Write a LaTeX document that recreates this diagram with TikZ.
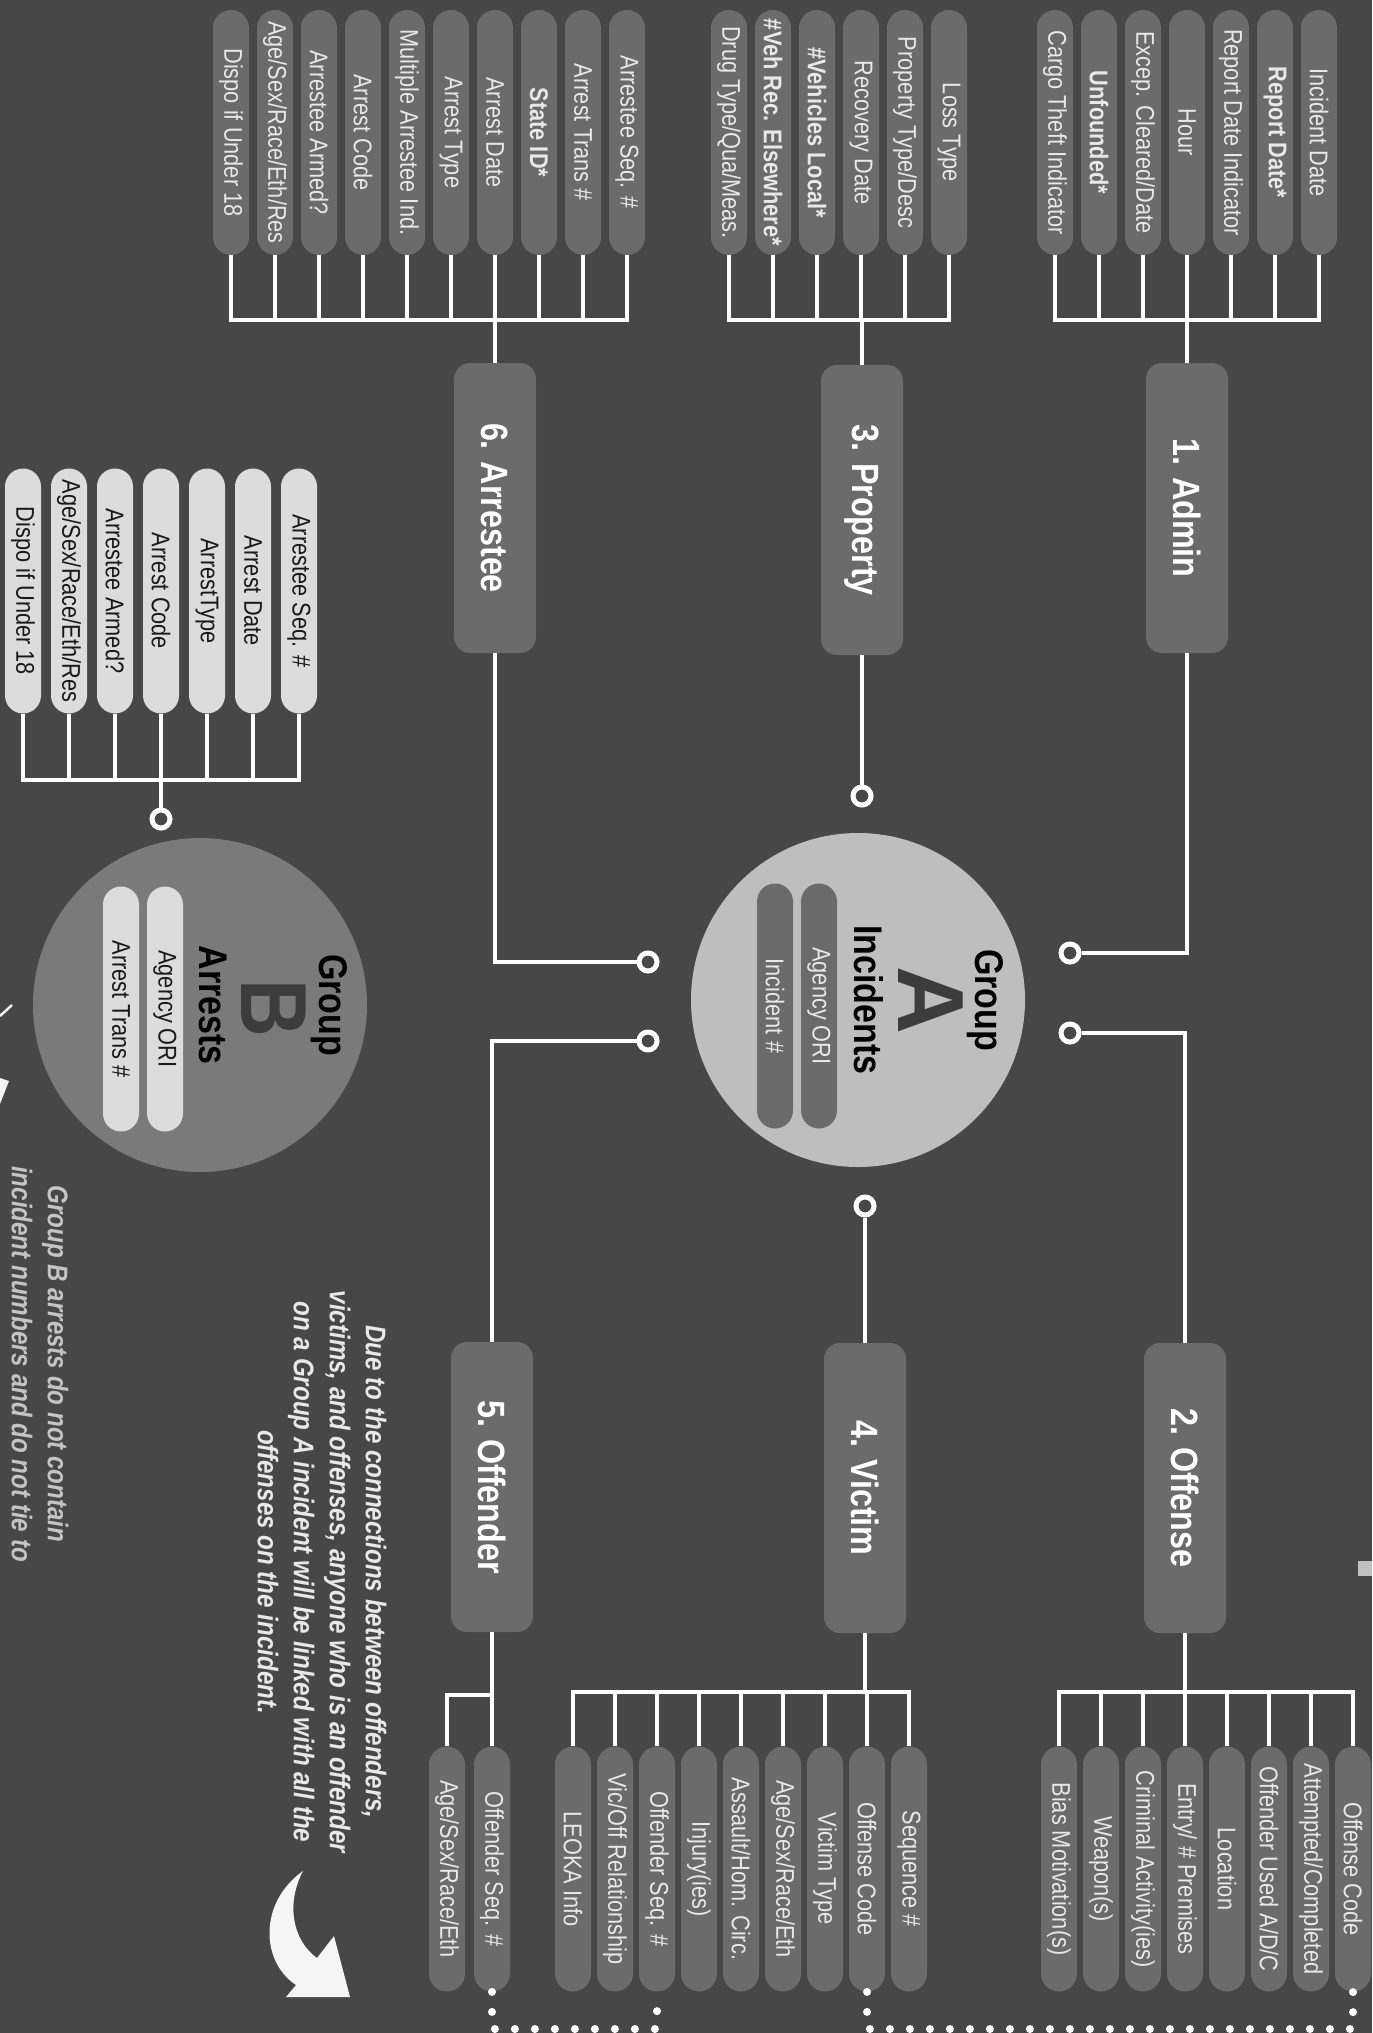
\documentclass[tikz,border=0pt]{standalone}
\usepackage{fontspec}
\setmainfont[FakeStretch=0.85]{Liberation Sans}
\newfontfamily\widesans{Liberation Sans}
\usetikzlibrary{calc}
\definecolor{bg}{HTML}{474747}
\definecolor{pilld}{HTML}{6B6B6B}
\definecolor{pilll}{HTML}{DCDCDC}
\definecolor{txtl}{HTML}{E8E8E8}
\definecolor{circA}{HTML}{BEBEBE}
\definecolor{circB}{HTML}{7A7A7A}
\definecolor{bigl}{HTML}{3C3C3C}
\definecolor{noteg}{HTML}{C4C4C4}
\definecolor{sq}{HTML}{C0C0C0}
\begin{document}
\begin{tikzpicture}[x=0.5pt,y=-0.5pt,
 pill/.style={rotate=-90, rounded corners=9pt, minimum width=122.5pt, minimum height=18pt, inner sep=0pt, fill=pilld, text=txtl, font=\fontsize{12.8}{14}\selectfont},
 lpill/.style={pill, fill=pilll, text=black!90},
 mbox/.style={rotate=-90, rounded corners=8pt, minimum width=145pt, minimum height=41pt, inner sep=0pt, fill=pilld, text=white, font=\bfseries\fontsize{19}{22}\selectfont},
 port/.style={circle, draw=white, line width=2.5pt, fill=bg, minimum size=9pt, inner sep=0pt},
 conn/.style={draw=white, line width=2pt},
 hbar/.style={draw=white, line width=2pt, line cap=rect},
 dots/.style={draw=white, line width=4pt, line cap=round, dash pattern=on 0pt off 10pt},
 gcirc/.style={circle, minimum size=167pt, inner sep=0pt},
 gtitle/.style={rotate=-90, inner sep=0pt, font=\bfseries\fontsize{20}{24}\selectfont, text=black}
]
\useasboundingbox (0,0) rectangle (1372,2033);
\fill[bg] (0,0) rectangle (1372,2033);
\clip (0,0) rectangle (1372,2033);

% ---------- bar coordinates
\coordinate (barA) at (1187,320);
\coordinate (barP) at (862,320);
\coordinate (barR) at (495,320);
\coordinate (barB) at (161,780);
\coordinate (barO) at (1185,1692);
\coordinate (barV) at (865,1692);
\coordinate (barF) at (492,1695);
\coordinate (dotY) at (0,2029);

% ---------- main boxes
\node[mbox] (admin) at (1187,508) {1. Admin};
\node[mbox] (property) at (862,510) {3. Property};
\node[mbox] (arrestee) at (495,508) {6. Arrestee};
\node[mbox] (offense) at (1185,1488) {2. Offense};
\node[mbox] (victim) at (865,1488) {4. Victim};
\node[mbox] (offender) at (492,1487) {5. Offender};

% ---------- top row pills
\foreach \x/\n/\t in {1055/a1/{Cargo Theft Indicator},1099/a2/{\textbf{Unfounded*}},1143/a3/{Excep. Cleared/Date},1187/a4/{Hour},1231/a5/{Report Date Indicator},1275/a6/{\textbf{Report Date*}},1319/a7/{Incident Date}}
  {\node[pill] (\n) at (\x,132.5) {\t}; \draw[conn] (\n.east) -- (\n.east |- barA);}
\draw[hbar] (a1.east |- barA) -- (a7.east |- barA);
\draw[conn] (barA) -- (admin.west);

\foreach \x/\n/\t in {729/p1/{Drug Type/Qua/Meas.},773/p2/{\textbf{\#Veh Rec. Elsewhere*}},817/p3/{\textbf{\#Vehicles Local*}},861/p4/{Recovery Date},905/p5/{Property Type/Desc},949/p6/{Loss Type}}
  {\node[pill] (\n) at (\x,132.5) {\t}; \draw[conn] (\n.east) -- (\n.east |- barP);}
\draw[hbar] (p1.east |- barP) -- (p6.east |- barP);
\draw[conn] (barP) -- (property.west);

\foreach \x/\n/\t in {231/r1/{Dispo if Under 18},275/r2/{Age/Sex/Race/Eth/Res},319/r3/{Arrestee Armed?},363/r4/{Arrest Code},407/r5/{Multiple Arrestee Ind.},451/r6/{Arrest Type},495/r7/{Arrest Date},539/r8/{\textbf{State ID*}},583/r9/{Arrest Trans \#},627/r10/{Arrestee Seq. \#}}
  {\node[pill] (\n) at (\x,132.5) {\t}; \draw[conn] (\n.east) -- (\n.east |- barR);}
\draw[hbar] (r1.east |- barR) -- (r10.east |- barR);
\draw[conn] (barR) -- (arrestee.west);

% ---------- group B pills
\foreach \x/\n/\t in {23/b1/{Dispo if Under 18},69/b2/{Age/Sex/Race/Eth/Res},115/b3/{Arrestee Armed?},161/b4/{Arrest Code},207/b5/{ArrestType},253/b6/{Arrest Date},299/b7/{Arrestee Seq. \#}}
  {\node[lpill] (\n) at (\x,591) {\t}; \draw[conn] (\n.east) -- (\n.east |- barB);}
\draw[hbar] (b1.east |- barB) -- (b7.east |- barB);

% ---------- bottom row pills
\foreach \x/\n/\t in {1059/o1/{Bias Motivation(s)},1101/o2/{Weapon(s)},1143/o3/{Criminal Activity(ies)},1185/o4/{Entry/ \# Premises},1227/o5/{Location},1269/o6/{Offender Used A/D/C},1311/o7/{Attempted/Completed},1353/o8/{Offense Code}}
  {\node[pill] (\n) at (\x,1869) {\t}; \draw[conn] (\n.west) -- (\n.west |- barO);}
\draw[hbar] (o1.west |- barO) -- (o8.west |- barO);
\draw[conn] (offense.east) -- (barO);

\foreach \x/\n/\t in {573/v1/{LEOKA Info},615/v2/{Vic/Off Relationship},657/v3/{Offender Seq. \#},699/v4/{Injury(ies)},741/v5/{Assault/Hom. Circ.},783/v6/{Age/Sex/Race/Eth},825/v7/{Victim Type},867/v8/{Offense Code},909/v9/{Sequence \#}}
  {\node[pill] (\n) at (\x,1869) {\t}; \draw[conn] (\n.west) -- (\n.west |- barV);}
\draw[hbar] (v1.west |- barV) -- (v9.west |- barV);
\draw[conn] (victim.east) -- (barV);

\node[pill] (f1) at (447,1869) {Age/Sex/Race/Eth};
\node[pill] (f2) at (492,1869) {Offender Seq. \#};
\draw[conn] (offender.east) -- (f2.west);
\draw[hbar] (barF) -- (f1.west |- barF);
\draw[conn] (f1.west |- barF) -- (f1.west);

% ---------- dotted links
\draw[dots] (v8.east) -- (v8.east |- dotY) -| (o8.east);
\draw[dots] (f2.east) -- (f2.east |- dotY) -| (v3.east);

% ---------- group circles
\node[gcirc, fill=circA] (gA) at (858,1000) {};
\node[gcirc, fill=circB] (gB) at (200,1005) {};

\node[pill] (ia1) at (775,1006) {Incident \#};
\node[pill] (ia2) at (819,1006) {Agency ORI};
\node[gtitle] (tA1) at (985,1000) {Group};
\node[rotate=-90, inner sep=0pt, text=bigl, font=\widesans\bfseries\fontsize{47}{50}\selectfont] (tA2) at (931,1000) {A};
\node[gtitle] (tA3) at (869,1000) {Incidents};

\node[lpill] (ib1) at (121,1009) {Arrest Trans \#};
\node[lpill] (ib2) at (165,1009) {Agency ORI};
\node[gtitle] (tB1) at (329,1005) {Group};
\node[rotate=-90, inner sep=0pt, text=bigl, font=\bfseries\fontsize{47}{50}\selectfont] (tB2) at (274,1008) {B};
\node[gtitle] (tB3) at (213,1005) {Arrests};

% ---------- ports and connectors
\node[port] (pA1) at (1070,953) {};
\node[port] (pA2) at (1070,1033) {};
\node[port] (pAt) at (862,796) {};
\node[port] (pAb) at (865,1206) {};
\node[port] (pL1) at (648,962) {};
\node[port] (pL2) at (648,1041) {};
\node[port] (pB) at (161,819) {};

\draw[conn] (admin.east) |- (pA1);
\draw[conn] (pA2) -| (offense.west);
\draw[conn] (property.east) -- (pAt);
\draw[conn] (pAb) -- (victim.west);
\draw[conn] (arrestee.east) |- (pL1);
\draw[conn] (pL2) -| (offender.west);
\draw[conn] (barB) -- (pB);

% ---------- notes
\node[rotate=-90, align=center, inner sep=0pt, text=txtl, font=\bfseries\itshape\fontsize{14.2}{18}\selectfont] (note) at (322,1572)
 {Due to the connections between offenders,\\ victims, and offenses, anyone who is an offender\\ on a Group A incident will be linked with all the\\ offenses on the incident.};
\node[rotate=-90, align=center, inner sep=0pt, text=noteg, font=\bfseries\itshape\fontsize{14.2}{18}\selectfont] (noteB) at (40,1364)
 {Group B arrests do not contain\\ incident numbers and do not tie to};

% ---------- curved arrows
\fill[white!96!black] (303,1871) .. controls (258,1903) and (261,1962) .. (296,1985) -- (286,1997) -- (350,1997) -- (334,1936) -- (317,1958) .. controls (292,1940) and (286,1903) .. (303,1871) -- cycle;
\draw[white!96!black, line width=1.2pt] (0,1016) -- (12,1005);
\fill[white!96!black] (0,1078) -- (9,1081) -- (0,1104) -- cycle;

% ---------- edge square
\fill[sq] (1358,1561) rectangle (1372,1576);
\end{tikzpicture}
\end{document}
